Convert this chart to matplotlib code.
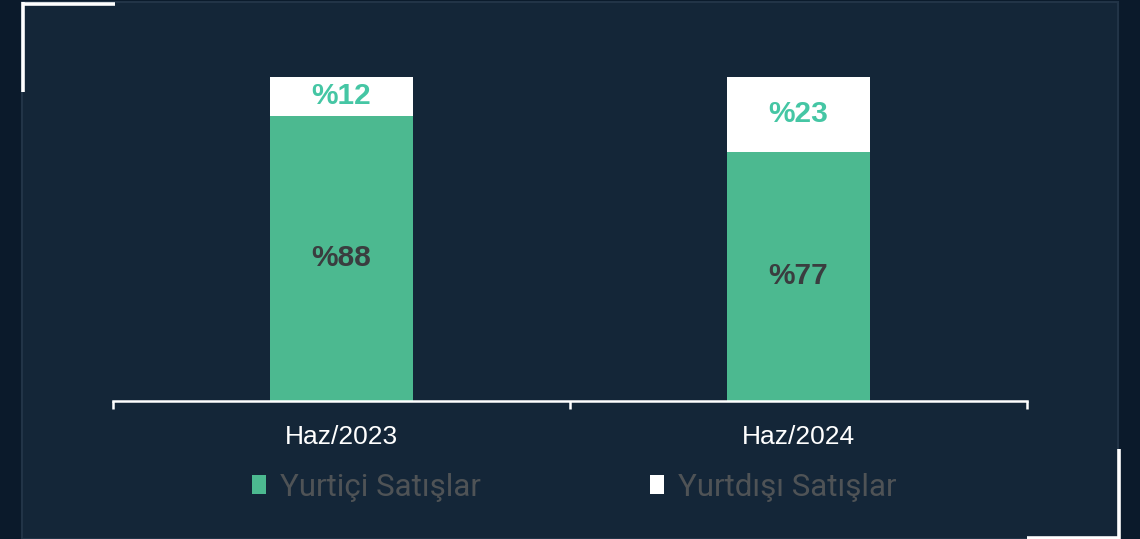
import matplotlib
matplotlib.use("Agg")
import matplotlib.pyplot as plt
from matplotlib.patches import Rectangle
from matplotlib.lines import Line2D

categories = ["Haz/2023", "Haz/2024"]
domestic = [88, 77]
foreign = [12, 23]
series_names = ["Yurtiçi Satışlar", "Yurtdışı Satışlar"]

W, H = 1140, 539
fig = plt.figure(figsize=(W / 100, H / 100), dpi=100)
fig.patch.set_facecolor("#0b1a2b")

def fx(px):
    return px / W

def fy(py):
    return 1 - py / H

# inner panel
fig.add_artist(Rectangle((fx(22), fy(539)), fx(1118) - fx(22), fy(2) - fy(539),
                         transform=fig.transFigure, facecolor="#142638",
                         edgecolor="#223447", linewidth=1.5, zorder=0))
# corner brackets
for xs, ys in [([21.5, 115], [3.5, 3.5]), ([22.5, 22.5], [2, 92]),
               ([1118.5, 1118.5], [449, 539]), ([1027, 1119], [537.5, 537.5])]:
    fig.add_artist(Line2D([fx(x) for x in xs], [fy(y) for y in ys],
                          transform=fig.transFigure, color="white", linewidth=2.6,
                          solid_capstyle="butt", zorder=5))

ax = fig.add_axes([fx(113), fy(401), fx(1027) - fx(113), fy(77) - fy(401)])
ax.set_facecolor("none")

green = "#4cb990"
x = list(range(len(categories)))
width = 0.313
b1 = ax.bar(x, domestic, width, color=green, label=series_names[0], zorder=2)
b2 = ax.bar(x, foreign, width, bottom=domestic, color="white", label=series_names[1], zorder=2)

for i in x:
    ax.text(i, domestic[i] / 2, f"%{domestic[i]}", ha="center", va="center",
            fontsize=21.5, fontweight="bold", color="#3a3d3f", family="Liberation Sans")
    ax.text(i, domestic[i] + foreign[i] / 2, f"%{foreign[i]}", ha="center", va="center",
            fontsize=21.5, fontweight="bold", color="#45c6a4", family="Liberation Sans")

ax.set_xlim(-0.5, len(categories) - 0.5)
ax.set_ylim(0, 100)
ax.set_yticks([])
for s in ["top", "right", "left"]:
    ax.spines[s].set_visible(False)
ax.spines["bottom"].set_color("white")
ax.spines["bottom"].set_linewidth(1.8)
ax.set_xticks(x)
ax.set_xticklabels(categories, fontsize=19, color="white", family="Liberation Sans")
ax.tick_params(axis="x", which="major", length=0, pad=17)
ax.set_xticks([i - 0.5 for i in range(len(categories) + 1)], minor=True)
ax.tick_params(axis="x", which="minor", length=6, width=1.8, color="white")

leg = fig.legend(handles=[b1, b2], labels=series_names, ncol=2, frameon=False,
                 loc="center", bbox_to_anchor=(fx(574), fy(487)),
                 prop={"family": "Roboto", "size": 22.5},
                 handlelength=0.45, handleheight=0.55, handletextpad=0.45,
                 columnspacing=5.4)
for t in leg.get_texts():
    t.set_color("#4f5356")

fig.savefig("out.png", dpi=100, facecolor=fig.get_facecolor())
